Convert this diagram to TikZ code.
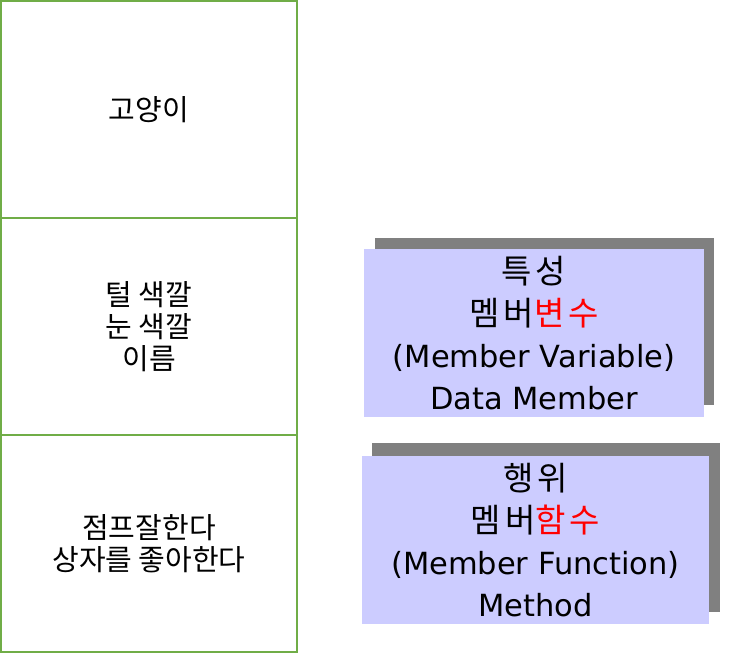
\documentclass[tikz,border=0pt]{standalone}
\usepackage{fontspec}
\setmainfont{DejaVu Sans}
\newfontfamily\kr{Noto Sans CJK KR}
\newfontfamily\krwide[LetterSpace=12]{Noto Sans CJK KR}
\definecolor{cellgreen}{HTML}{70AD47}
\definecolor{boxblue}{HTML}{CCCCFF}
\definecolor{shadegray}{HTML}{808080}

\begin{document}
\begin{tikzpicture}[x=1pt, y=-1pt,
        cell/.style = {draw=cellgreen, line width=1.6pt, minimum width=296pt, minimum height=217pt, inner sep=0pt, align=center, font=\kr\fontsize{29}{32}\selectfont},
        shadebox/.style = {fill=shadegray, inner sep=0pt},
        membox/.style = {fill=boxblue, inner sep=0pt, align=center, font=\fontsize{30.5}{42}\selectfont}]
        \useasboundingbox (0,0) rectangle (749,653);
        % left column
        \node[cell] (cat)   at (149,109.5) {고양이};
        \node[cell] (attr)  at (149,326.5) {털 색깔\\눈 색깔\\이름};
        \node[cell] (act)   at (149,543.5) {점프잘한다\\상자를 좋아한다};
        % right boxes
        \node[shadebox, minimum width=339pt, minimum height=167pt] (varshade) at (544.5,321.5) {};
        \node[membox, minimum width=340pt, minimum height=168pt] (var) at (534,333)
            {{\krwide\fontsize{33}{42}\selectfont 특성}\\{\krwide\fontsize{33}{42}\selectfont 멤버\textcolor{red}{변수}}\\(Member Variable)\\Data Member};
        \node[shadebox, minimum width=348pt, minimum height=169pt] (funshade) at (546,527.5) {};
        \node[membox, minimum width=347pt, minimum height=168pt] (fun) at (535.5,540)
            {{\krwide\fontsize{33}{42}\selectfont 행위}\\{\krwide\fontsize{33}{42}\selectfont 멤버\textcolor{red}{함수}}\\(Member Function)\\Method};
    \end{tikzpicture}
\end{document}
